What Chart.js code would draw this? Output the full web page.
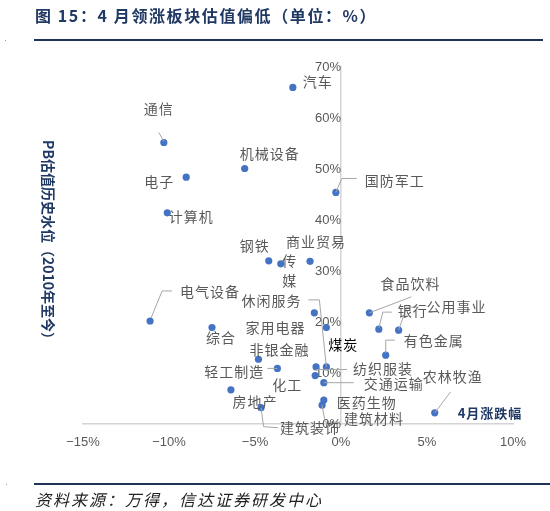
<!DOCTYPE html>
<html>
<head>
<meta charset="utf-8">
<script src="https://cdn.jsdelivr.net/npm/chart.js@4/dist/chart.umd.min.js"></script>
<style>
  body { margin: 0; background: #fff; }
  canvas { display: block; }
</style>
</head>
<body>
<canvas id="myChart" width="550" height="511"></canvas>
<script>
const sectors = ['汽车', '通信', '机械设备', '电子', '国防军工', '计算机', '钢铁', '传媒', '商业贸易',
    '电气设备', '综合', '煤炭', '家用电器', '非银金融', '轻工制造', '房地产', '建筑装饰', '休闲服务',
    '纺织服装', '化工', '交通运输', '医药生物', '建筑材料', '食品饮料', '银行', '公用事业', '有色金属', '农林牧渔'];
const aprilChange = [-2.8, -10.3, -5.6, -9.0, -0.3, -10.1, -4.2, -3.5, -1.8,
    -11.1, -7.5, -1.55, -0.85, -4.8, -3.7, -6.4, -4.65, -0.85,
    -1.45, -1.5, -1.0, -1.0, -1.1, 1.65, 2.2, 3.35, 2.6, 5.45];
const pbLevel = [66.0, 55.2, 50.1, 48.4, 45.4, 41.4, 32.0, 31.4, 31.9,
    20.2, 18.9, 21.8, 18.9, 12.7, 10.9, 6.7, 3.2, 11.2,
    11.2, 9.5, 8.1, 4.7, 3.7, 21.8, 18.6, 18.4, 13.5, 2.2];
const xTicks = [-15, -10, -5, 0, 5, 10];
const yTicks = [0, 10, 20, 30, 40, 50, 60, 70];

const navy = '#203864';
const blue = '#4472c4';
const grey = '#595959';
const axisGrey = '#d4d4d4';

// label placement relative to the point (px), leader lines as point offsets
const labelPos = {
    '汽车': {dx: 25, dy: -6},
    '通信': {dx: -5, dy: -34, leader: [[-5, -10], [0, -1]]},
    '机械设备': {dx: 25, dy: -15},
    '电子': {dx: -27, dy: 5},
    '国防军工': {dx: 59, dy: -12, leader: [[0, 0], [6, -14], [21, -14]]},
    '计算机': {dx: 24, dy: 4},
    '钢铁': {dx: -14, dy: -15},
    '传媒': {dx: 9, dy: 7, text: '传\n媒'},
    '商业贸易': {dx: 6, dy: -20},
    '电气设备': {dx: 60, dy: -29, leader: [[1, -3], [12, -30], [22, -30]]},
    '综合': {dx: 9, dy: 10},
    '煤炭': {dx: 29, dy: 32, color: '#000'},
    '家用电器': {dx: -51, dy: 0},
    '非银金融': {dx: 21, dy: -10},
    '轻工制造': {dx: -43, dy: 3, leader: [[-10, 0], [0, 0]]},
    '房地产': {dx: 24, dy: 12},
    '建筑装饰': {dx: 49, dy: 20, leader: [[0, 0], [2.6, 19], [17, 20]]},
    '休闲服务': {dx: -55, dy: -66, leader: [[0, 0], [-7, -67], [-18, -67]]},
    '纺织服装': {dx: 67, dy: 2, leader: [[0, 2.6], [31, 2.6]]},
    '化工': {dx: -28, dy: 9},
    '交通运输': {dx: 70, dy: 1, leader: [[0, 0], [30, 0]]},
    '医药生物': {dx: 43, dy: 3},
    '建筑材料': {dx: 52, dy: 14, leader: [[0, 0], [3, 17], [18, 17]]},
    '食品饮料': {dx: 41, dy: -29, leader: [[0, 0], [42, -16]]},
    '银行': {dx: 34, dy: -18, leader: [[0, -1], [4, -17], [13, -17]]},
    '公用事业': {dx: 58, dy: -23, leader: [[0, 0], [8, -23], [20, -23]]},
    '有色金属': {dx: 48, dy: -14, leader: [[0, -2], [0, -15], [9, -15]]},
    '农林牧渔': {dx: 18, dy: -36, leader: [[0, 0], [16, -21]]}
};

const cjk = '"Noto Sans CJK SC", "Noto Sans", sans-serif';
const pct = v => String(v).replace('-', '\u2212') + '%';

const decorPlugin = {
    id: 'decor',
    afterDatasetsDraw(chart) {
        const ctx = chart.ctx;
        const meta = chart.getDatasetMeta(0);
        ctx.save();
        // leader lines
        ctx.strokeStyle = '#a6a6a6';
        ctx.lineWidth = 1;
        meta.data.forEach((pt, i) => {
            const lp = labelPos[sectors[i]];
            if (!lp || !lp.leader) return;
            ctx.beginPath();
            lp.leader.forEach(([lx, ly], k) => {
                if (k === 0) ctx.moveTo(pt.x + lx, pt.y + ly);
                else ctx.lineTo(pt.x + lx, pt.y + ly);
            });
            ctx.stroke();
        });
        // labels
        ctx.font = '14px ' + cjk;
        ctx.letterSpacing = '1px';
        ctx.textAlign = 'center';
        ctx.textBaseline = 'middle';
        meta.data.forEach((pt, i) => {
            const lp = labelPos[sectors[i]] || {dx: 20, dy: 0};
            ctx.fillStyle = lp.color || grey;
            const lines = (lp.text || sectors[i]).split('\n');
            const lh = 20;
            lines.forEach((line, k) => {
                const y = pt.y + lp.dy + (k - (lines.length - 1) / 2) * lh;
                ctx.fillText(line, pt.x + lp.dx, y);
            });
        });
        ctx.restore();
    },
    afterDraw(chart) {
        const ctx = chart.ctx;
        ctx.save();
        // header
        ctx.fillStyle = navy;
        ctx.font = 'bold 16px ' + cjk;
        ctx.letterSpacing = '1.6px';
        ctx.textAlign = 'left';
        ctx.textBaseline = 'middle';
        ctx.fillText('图 15：4 月领涨板块估值偏低（单位：%）', 35, 16);
        ctx.fillStyle = '#1f3257';
        ctx.fillRect(34, 39, 509, 2);
        ctx.fillRect(34, 483, 516, 2);
        ctx.fillStyle = '#999';
        ctx.fillRect(5, 40, 1, 1);
        ctx.fillRect(6, 484, 1, 1);
        // x axis name
        ctx.fillStyle = navy;
        ctx.font = 'bold 13px ' + cjk;
        ctx.letterSpacing = '1px';
        ctx.textAlign = 'center';
        ctx.fillText('4月涨跌幅', 490, 413);
        // y axis name
        ctx.translate(48, 243);
        ctx.rotate(Math.PI / 2);
        ctx.font = 'bold 14px ' + cjk;
        ctx.letterSpacing = '0px';
        ctx.fillText('PB估值历史水位（2010年至今）', 0, 0);
        ctx.setTransform(1, 0, 0, 1, 0, 0);
        // source
        ctx.fillStyle = '#222';
        ctx.font = 'italic 16px ' + cjk;
        ctx.letterSpacing = '2px';
        ctx.textAlign = 'left';
        ctx.fillText('资料来源：万得，信达证券研发中心', 35, 500);
        ctx.restore();
    }
};

const ctx = document.getElementById('myChart').getContext('2d');

const myChart = new Chart(ctx, {
    type: 'scatter',
    data: {
        datasets: [{
            label: 'PB估值历史水位',
            data: aprilChange.map((x, i) => ({x: x, y: pbLevel[i]})),
            backgroundColor: blue,
            borderColor: blue,
            pointRadius: 3.6,
            pointHoverRadius: 3.6,
            borderWidth: 0
        }]
    },
    options: {
        responsive: false,
        maintainAspectRatio: false,
        animation: false,
        layout: {
            padding: {left: 83, right: 37, top: 67, bottom: 87}
        },
        scales: {
            x: {
                type: 'linear',
                position: {y: 0},
                min: -15,
                max: 10,
                afterBuildTicks: scale => { scale.ticks = xTicks.map(v => ({value: v})); },
                grid: {display: false, drawTicks: false},
                border: {display: true, color: axisGrey, width: 1.5},
                ticks: {
                    padding: 11,
                    color: grey,
                    font: {family: '"Liberation Sans", Arial, sans-serif', size: 13},
                    callback: v => pct(v)
                }
            },
            y: {
                type: 'linear',
                position: {x: 0},
                min: 0,
                max: 70,
                afterBuildTicks: scale => { scale.ticks = yTicks.map(v => ({value: v})); },
                grid: {display: false, drawTicks: false},
                border: {display: true, color: axisGrey, width: 1.5},
                ticks: {
                    padding: 10,
                    color: grey,
                    font: {family: '"Liberation Sans", Arial, sans-serif', size: 13},
                    callback: v => pct(v)
                }
            }
        },
        plugins: {
            legend: {display: false},
            tooltip: {enabled: false}
        }
    },
    plugins: [decorPlugin]
});
</script>
</body>
</html>
